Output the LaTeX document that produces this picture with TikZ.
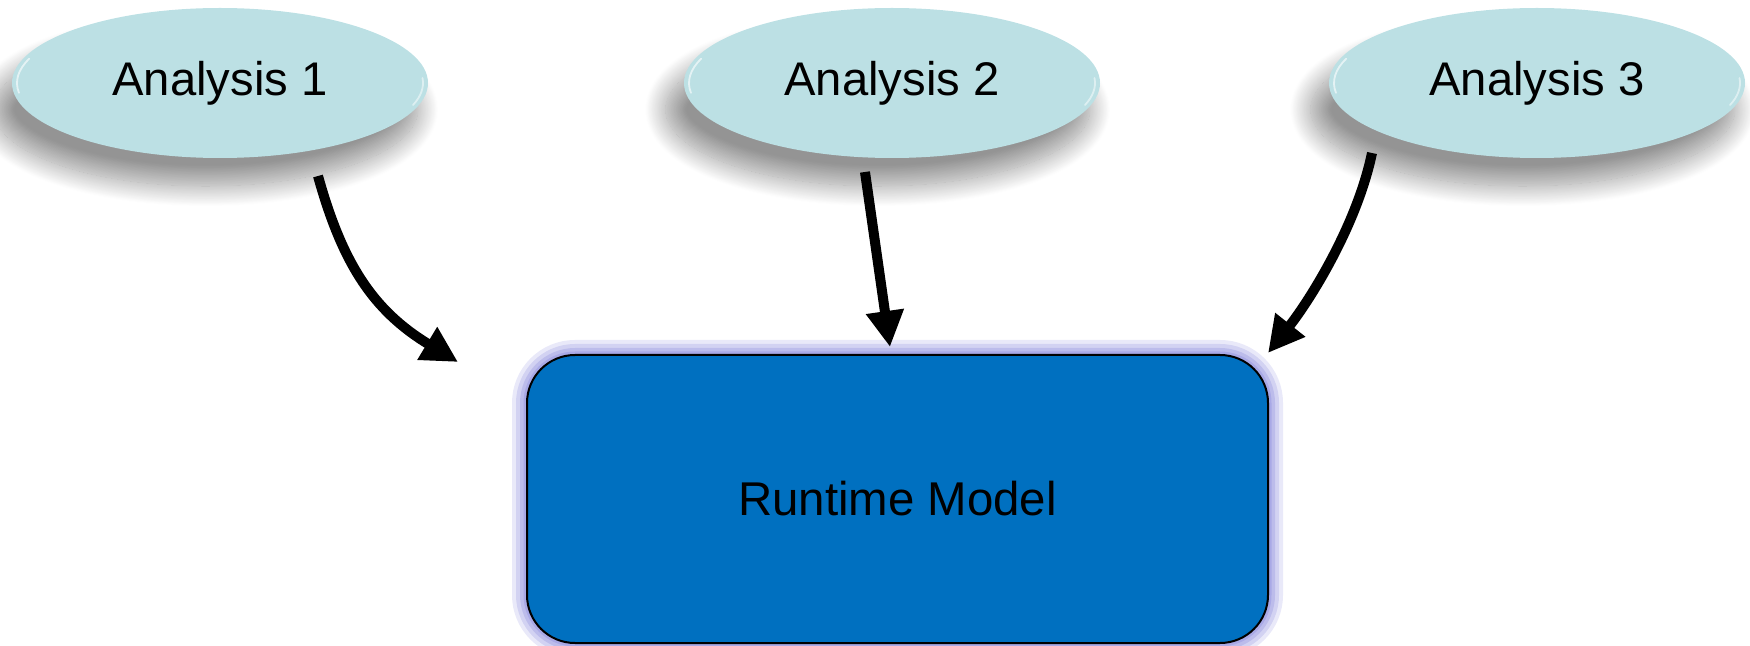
\documentclass[tikz,border=0pt]{standalone}
\usepackage{fontspec}
\setmainfont{Liberation Sans}
\usetikzlibrary{arrows.meta,shapes.geometric,shadows.blur}
\definecolor{ellfill}{HTML}{BCE0E4}
\definecolor{boxfill}{HTML}{0070C0}
\definecolor{glow}{HTML}{9C9CE2}
\begin{document}
\begin{tikzpicture}[x=0.5pt,y=-0.5pt,
  analysis/.style={ellipse, fill=ellfill, minimum width=208pt, minimum height=75pt, inner sep=0pt,
    font=\fontsize{23.6pt}{28pt}\selectfont,
    blur shadow={shadow xshift=-7pt, shadow yshift=-13pt, shadow blur radius=10pt,
      shadow opacity=42, shadow blur steps=30, shadow scale=1.02},
    path picture={
      \draw[white, line width=0.9pt, opacity=0.6, line cap=round]
        ([shift={(172:203 and 71)}]path picture bounding box.center)
        arc[start angle=172, end angle=200, x radius=203, y radius=71];
      \draw[white, line width=0.9pt, opacity=0.5, line cap=round]
        ([shift={(-4:203 and 71)}]path picture bounding box.center)
        arc[start angle=-4, end angle=18, x radius=203, y radius=71];
    }},
  runtime/.style={rectangle, rounded corners=24pt, fill=boxfill, draw=black, line width=1pt,
    minimum width=370.5pt, minimum height=144pt, inner sep=0pt,
    font=\fontsize{23.7pt}{28pt}\selectfont,
    preaction={draw=glow, line width=15pt, opacity=0.22},
    preaction={draw=glow, line width=11pt, opacity=0.3},
    preaction={draw=glow, line width=7pt, opacity=0.4},
    preaction={draw=glow, line width=3.5pt, opacity=0.6}},
  bigarrow/.style={line width=5pt, -{Triangle[length=18pt,width=18pt]}}]
\useasboundingbox (0,0) rectangle (1750,646);
\node[analysis] (a1) at (220,83) {Analysis 1};
\node[analysis] (a2) at (892,83) {Analysis 2};
\node[analysis] (a3) at (1537,83) {Analysis 3};
\node[runtime] (rm) at (897.5,499) {Runtime Model};
\coordinate (s1) at (318,176);
\coordinate (e1) at (458,362);
\coordinate (s2) at (865,172);
\coordinate (e2) at (890,347);
\coordinate (s3) at (1372,153);
\coordinate (e3) at (1268,353);
\draw[bigarrow] (s1) .. controls (342,262) and (372,310) .. (e1);
\draw[bigarrow] (s2) -- (e2);
\draw[bigarrow] (s3) .. controls (1357,225) and (1310,300) .. (e3);
\end{tikzpicture}
\end{document}
